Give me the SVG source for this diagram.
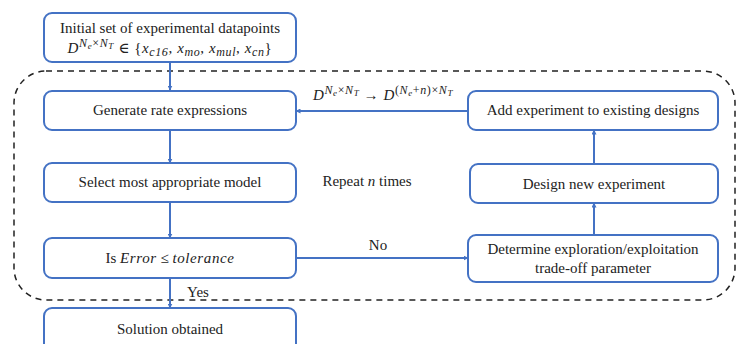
<svg xmlns="http://www.w3.org/2000/svg" width="739" height="344" viewBox="0 0 739 344">
<style>
.box{fill:#fff;stroke:#4472C4;stroke-width:2}
.ln{fill:none;stroke:#4472C4;stroke-width:2}
text{font-family:"Liberation Serif","Times New Roman","DejaVu Serif",serif;font-size:15px;fill:#222}
.c{text-anchor:middle}
.i{font-style:italic}
.s{font-size:12px}
.ss{font-size:9px}
.m{letter-spacing:0.6px}
</style>
<defs>
<marker id="ah" viewBox="0 0 10 10" refX="9" refY="5" markerWidth="5" markerHeight="5" orient="auto" markerUnits="userSpaceOnUse">
<path d="M0,0 L10,5 L0,10 z" fill="#4472C4"/>
</marker>
</defs>
<rect x="14" y="71" width="721" height="229" rx="32" ry="32" fill="none" stroke="#222" stroke-width="1.5" stroke-dasharray="6,5"/>
<g id="connectors">
<line class="ln" x1="170" y1="62" x2="170" y2="90" marker-end="url(#ah)"/>
<line class="ln" x1="170" y1="130" x2="170" y2="163" marker-end="url(#ah)"/>
<line class="ln" x1="170" y1="202" x2="170" y2="238" marker-end="url(#ah)"/>
<line class="ln" x1="170" y1="278" x2="170" y2="308" marker-end="url(#ah)"/>
<line class="ln" x1="296" y1="258" x2="468" y2="258" marker-end="url(#ah)"/>
<line class="ln" x1="594" y1="235" x2="594" y2="203" marker-end="url(#ah)"/>
<line class="ln" x1="594" y1="164" x2="594" y2="130" marker-end="url(#ah)"/>
<line class="ln" x1="468" y1="111" x2="296" y2="111" marker-end="url(#ah)"/>
<text x="378" y="250" class="c">No</text>
<text x="198" y="297" class="c">Yes</text>
<text x="313" y="100" class="m"><tspan class="i">D</tspan><tspan class="i s" dy="-6">N</tspan><tspan class="i ss" dy="2">e</tspan><tspan class="s" dy="-2">×</tspan><tspan class="i s">N</tspan><tspan class="i ss" dy="2">T</tspan><tspan dy="4"> → </tspan><tspan class="i">D</tspan><tspan class="s" dy="-6">(</tspan><tspan class="i s">N</tspan><tspan class="i ss" dy="2">e</tspan><tspan class="s" dy="-2">+</tspan><tspan class="i s">n</tspan><tspan class="s">)×</tspan><tspan class="i s">N</tspan><tspan class="i ss" dy="2">T</tspan></text>
<text x="367" y="186" class="c">Repeat <tspan class="i">n</tspan> times</text>
</g>
<g id="n-init">
<rect class="box" x="44" y="13" width="252" height="49" rx="8"/>
<text x="170" y="33" class="c">Initial set of experimental datapoints</text>
<text x="170" y="53" class="c m"><tspan class="i">D</tspan><tspan class="i s" dy="-6">N</tspan><tspan class="i ss" dy="2">e</tspan><tspan class="s" dy="-2">×</tspan><tspan class="i s">N</tspan><tspan class="i ss" dy="2">T</tspan><tspan dy="4"> ∈ {</tspan><tspan class="i">x</tspan><tspan class="i s" dy="3">c16</tspan><tspan dy="-3">, </tspan><tspan class="i">x</tspan><tspan class="i s" dy="3">mo</tspan><tspan dy="-3">, </tspan><tspan class="i">x</tspan><tspan class="i s" dy="3">mul</tspan><tspan dy="-3">, </tspan><tspan class="i">x</tspan><tspan class="i s" dy="3">cn</tspan><tspan dy="-3">}</tspan></text>
</g>
<g id="n-generate">
<rect class="box" x="44" y="91" width="252" height="39" rx="8"/>
<text x="170" y="115" class="c">Generate rate expressions</text>
</g>
<g id="n-select">
<rect class="box" x="44" y="163" width="252" height="39" rx="8"/>
<text x="170" y="187" class="c">Select most appropriate model</text>
</g>
<g id="n-error">
<rect class="box" x="44" y="238" width="252" height="40" rx="8"/>
<text x="170" y="263" class="c">Is <tspan class="i m">Error</tspan> ≤ <tspan class="i m">tolerance</tspan></text>
</g>
<g id="n-solution">
<rect class="box" x="44" y="308" width="252" height="44" rx="8"/>
<text x="170" y="334" class="c">Solution obtained</text>
</g>
<g id="n-add">
<rect class="box" x="468" y="91" width="250" height="39" rx="8"/>
<text x="593" y="115" class="c">Add experiment to existing designs</text>
</g>
<g id="n-design">
<rect class="box" x="470" y="164" width="248" height="39" rx="8"/>
<text x="594" y="189" class="c">Design new experiment</text>
</g>
<g id="n-determine">
<rect class="box" x="468" y="235" width="250" height="47" rx="8"/>
<text x="593" y="254" class="c">Determine exploration/exploitation</text>
<text x="593" y="273" class="c">trade-off parameter</text>
</g>
</svg>
